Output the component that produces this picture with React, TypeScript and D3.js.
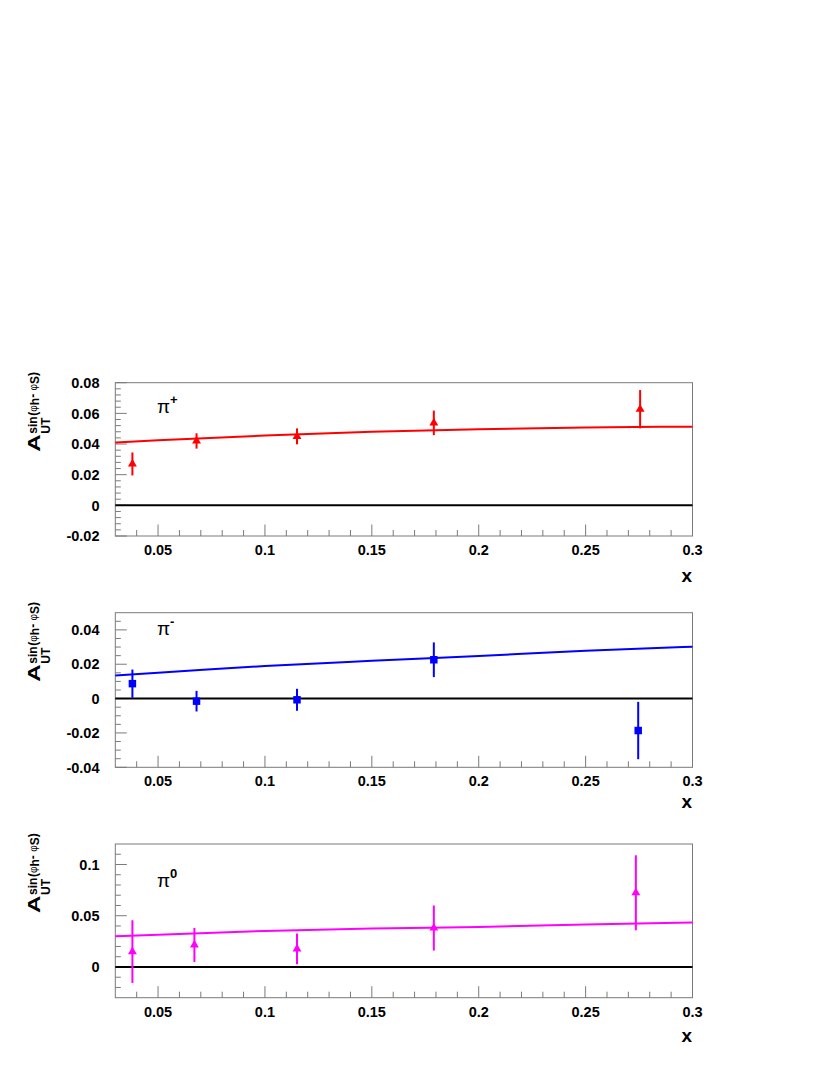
import React from "react";
import * as d3 from "d3";

// ---------- data ----------
const curveX = [0.03, 0.05, 0.1, 0.15, 0.2, 0.25, 0.3];

const piPlusX = [0.038, 0.068, 0.115, 0.179, 0.2755];
const piPlusY = [0.027, 0.042, 0.045, 0.0538, 0.0627];
const piPlusErr = [0.0075, 0.005, 0.0052, 0.008, 0.0125];
const piPlusCurve = [0.041, 0.0425, 0.0455, 0.048, 0.0497, 0.0508, 0.0513];

const piMinusX = [0.038, 0.068, 0.115, 0.179, 0.2746];
const piMinusY = [0.0087, -0.0015, -0.0007, 0.0226, -0.0186];
const piMinusErr = [0.0082, 0.006, 0.0064, 0.0101, 0.0167];
const piMinusCurve = [0.0135, 0.015, 0.019, 0.022, 0.0248, 0.0278, 0.0302];

const piZeroX = [0.038, 0.067, 0.115, 0.179, 0.2735];
const piZeroY = [0.015, 0.0215, 0.0176, 0.038, 0.0724];
const piZeroErr = [0.0306, 0.0166, 0.015, 0.022, 0.0366];
const piZeroCurve = [0.03, 0.0315, 0.0352, 0.0375, 0.039, 0.0414, 0.0434];

const xDomain = [0.03, 0.3];
const xMajorTicks = [0.05, 0.1, 0.15, 0.2, 0.25, 0.3];
const xTickLabels = ["0.05", "0.1", "0.15", "0.2", "0.25", "0.3"];
const xMinorStep = 0.01;

const panelLabels = ["+", "-", "0"];
const panelColors = ["#ff0000", "#0000ff", "#ff00ff"];
const panelMarkers = ["triangle", "square", "triangle"];
const yDomains = [[-0.02, 0.08], [-0.04, 0.05], [-0.03, 0.12]];
const yMajorTicks = [
  [-0.02, 0, 0.02, 0.04, 0.06, 0.08],
  [-0.04, -0.02, 0, 0.02, 0.04],
  [0, 0.05, 0.1],
];
const yTickLabels = [
  ["-0.02", "0", "0.02", "0.04", "0.06", "0.08"],
  ["-0.04", "-0.02", "0", "0.02", "0.04"],
  ["0", "0.05", "0.1"],
];
const yMinorSteps = [0.004, 0.005, 0.01];
const labelPosX = [0.0495, 0.0495, 0.0495];
const labelPosY = [0.06, 0.037, 0.078];

// ---------- layout ----------
const W = 830;
const H = 1075;
const left = 115.3;
const right = 692.5;
const panelTops = [382.7, 612.7, 844];
const panelBottoms = [536, 767.3, 997.7];
const xTitleOffsets = [46, 41, 44];

const FONT = "'Liberation Sans', Arial, Helvetica, sans-serif";
const FRAME = "#7a7a7a";

function range(a: number, b: number, step: number) {
  const out: number[] = [];
  const n = Math.round((b - a) / step);
  for (let i = 0; i <= n; i++) out.push(+(a + i * step).toFixed(6));
  return out;
}

function Panel({ idx }: { idx: number }) {
  const top = panelTops[idx];
  const bottom = panelBottoms[idx];
  const x = d3.scaleLinear().domain(xDomain).range([left, right]);
  const y = d3.scaleLinear().domain(yDomains[idx]).range([bottom, top]);
  const color = panelColors[idx];
  const xs = [piPlusX, piMinusX, piZeroX][idx];
  const ys = [piPlusY, piMinusY, piZeroY][idx];
  const es = [piPlusErr, piMinusErr, piZeroErr][idx];
  const cs = [piPlusCurve, piMinusCurve, piZeroCurve][idx];

  const line = d3
    .line<number>()
    .x((_, i) => x(curveX[i]))
    .y((d) => y(d))
    .curve(d3.curveMonotoneX);

  const xMinor = range(xDomain[0], xDomain[1], xMinorStep).filter(
    (v) => !xMajorTicks.some((m) => Math.abs(m - v) < 1e-6) && v > xDomain[0] + 1e-6 && v < xDomain[1] - 1e-6
  );
  const yd = yDomains[idx];
  const yMinor = range(yd[0], yd[1], yMinorSteps[idx]).filter(
    (v) => !yMajorTicks[idx].some((m) => Math.abs(m - v) < 1e-6) && v > yd[0] + 1e-6 && v < yd[1] - 1e-6
  );

  const sym = d3
    .symbol()
    .type(panelMarkers[idx] === "triangle" ? d3.symbolTriangle : d3.symbolSquare)
    .size(panelMarkers[idx] === "triangle" ? 34 : 56);

  const titleX = 40;
  const titleY = top + 69;

  return (
    <g>
      {/* frame */}
      <rect x={left} y={top} width={right - left} height={bottom - top} fill="none" stroke={FRAME} strokeWidth={1} />
      {/* x ticks */}
      {xMajorTicks.map((v, i) => (
        <g key={"xm" + i}>
          <line x1={x(v)} x2={x(v)} y1={bottom} y2={bottom - 11.5} stroke={FRAME} />
          <text x={x(v)} y={bottom + 19} textAnchor="middle" fontFamily={FONT} fontWeight="bold" fontSize={14.5} fill="#000">
            {xTickLabels[i]}
          </text>
        </g>
      ))}
      {xMinor.map((v, i) => (
        <line key={"xn" + i} x1={x(v)} x2={x(v)} y1={bottom} y2={bottom - 6} stroke={FRAME} />
      ))}
      {/* y ticks */}
      {yMajorTicks[idx].map((v, i) => (
        <g key={"ym" + i}>
          <line x1={left} x2={left + 11.5} y1={y(v)} y2={y(v)} stroke={FRAME} />
          <text x={99.5} y={y(v)} dy="0.36em" textAnchor="end" fontFamily={FONT} fontWeight="bold" fontSize={14.5} fill="#000">
            {yTickLabels[idx][i]}
          </text>
        </g>
      ))}
      {yMinor.map((v, i) => (
        <line key={"yn" + i} x1={left} x2={left + 5.5} y1={y(v)} y2={y(v)} stroke={FRAME} />
      ))}
      {/* x title */}
      <text x={692} y={bottom + xTitleOffsets[idx]} textAnchor="end" fontFamily={FONT} fontWeight="bold" fontSize={19} fill="#000">
        x
      </text>
      {/* y title */}
      <g transform={`translate(${titleX},${titleY}) rotate(-90)`} fontFamily={FONT} fontWeight="bold" fill="#000">
        <text x={0} y={0} fontSize={17} textLength={17.5} lengthAdjust="spacingAndGlyphs">A</text>
        <text x={18} y={-3} fontSize={12}>sin</text>
        <text x={18} y={10} fontSize={12}>UT</text>
        <text x={36} y={-3} fontSize={12}>
          <tspan>(</tspan>
          <tspan fontSize={10} fontWeight="normal">φ</tspan>
          <tspan dy={2}>h</tspan>
          <tspan dy={-2}>- </tspan>
          <tspan fontSize={10} fontWeight="normal">φ</tspan>
          <tspan dy={2}>S</tspan>
          <tspan dy={-2}>)</tspan>
        </text>
      </g>
      {/* zero line */}
      <line x1={left} x2={right} y1={y(0)} y2={y(0)} stroke="#000" strokeWidth={2} />
      {/* curve */}
      <path d={line(cs) || ""} fill="none" stroke={color} strokeWidth={2} />
      {/* data */}
      {xs.map((xv, i) => (
        <g key={"p" + i}>
          <line x1={x(xv)} x2={x(xv)} y1={y(ys[i] - es[i])} y2={y(ys[i] + es[i])} stroke={color} strokeWidth={2} />
          <path d={sym() || ""} transform={`translate(${x(xv)},${y(ys[i])})`} fill={color} />
        </g>
      ))}
      {/* particle label */}
      <text x={x(labelPosX[idx])} y={y(labelPosY[idx])} fontFamily={FONT} fill="#000" fontSize={19}>
        π
        <tspan dy={-9} fontSize={13} fontWeight="bold">{panelLabels[idx]}</tspan>
      </text>
    </g>
  );
}

export default function App() {
  return (
    <svg width={W} height={H} style={{ position: "absolute", left: 0, top: 0, background: "#fff" }}>
      <rect x={0} y={0} width={W} height={H} fill="#fff" />
      {[0, 1, 2].map((i) => (
        <Panel key={i} idx={i} />
      ))}
    </svg>
  );
}
